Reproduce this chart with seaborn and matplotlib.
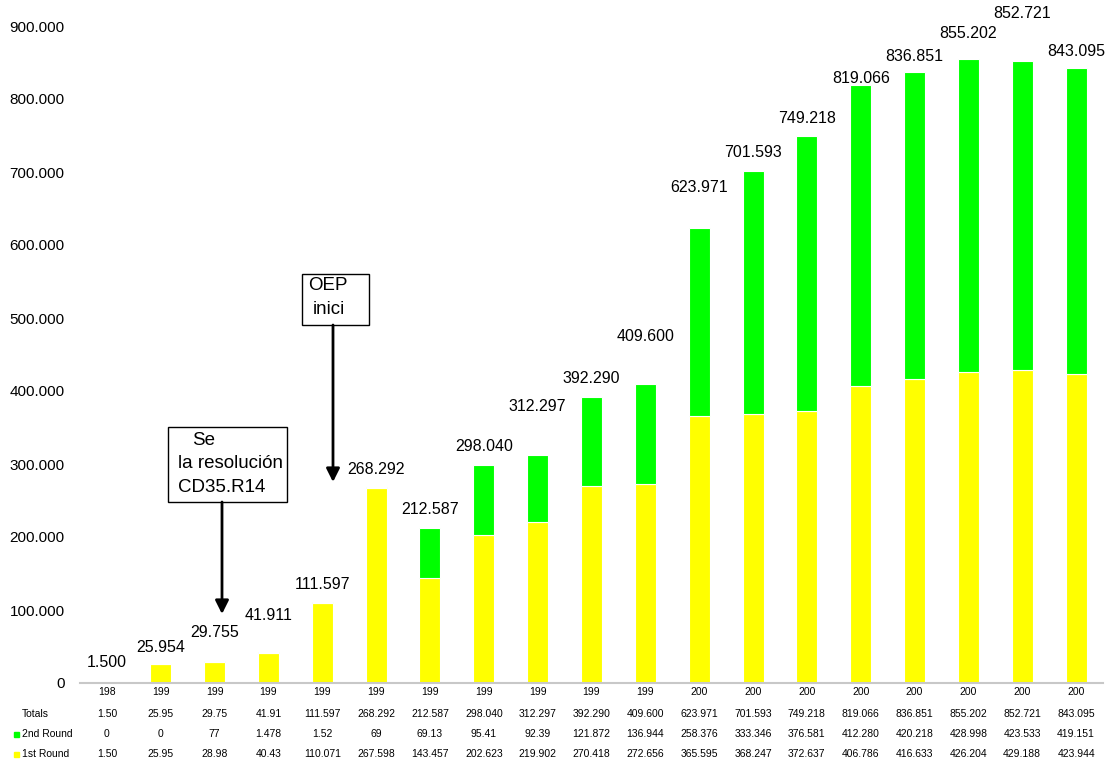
import matplotlib
matplotlib.use("Agg")
import matplotlib.pyplot as plt
import seaborn as sns
from matplotlib.patches import Rectangle, FancyArrowPatch
from matplotlib.ticker import FuncFormatter, FixedLocator

# data (values in units, table strings as printed)
year_labels = ["198", "199", "199", "199", "199", "199", "199", "199", "199", "199",
               "199", "200", "200", "200", "200", "200", "200", "200", "200"]
first_round = [1500, 25954, 28980, 40433, 110071, 267598, 143457, 202623, 219902, 270418,
               272656, 365595, 368247, 372637, 406786, 416633, 426204, 429188, 423944]
second_round = [0, 0, 775, 1478, 1526, 694, 69130, 95417, 92395, 121872,
                136944, 258376, 333346, 376581, 412280, 420218, 428998, 423533, 419151]
total_labels = ["1.500", "25.954", "29.755", "41.911", "111.597", "268.292", "212.587",
                "298.040", "312.297", "392.290", "409.600", "623.971", "701.593",
                "749.218", "819.066", "836.851", "855.202", "852.721", "843.095"]

table_totals = ["1.50", "25.95", "29.75", "41.91", "111.597", "268.292", "212.587",
                "298.040", "312.297", "392.290", "409.600", "623.971", "701.593",
                "749.218", "819.066", "836.851", "855.202", "852.721", "843.095"]
table_second = ["0", "0", "77", "1.478", "1.52", "69", "69.13", "95.41", "92.39",
                "121.872", "136.944", "258.376", "333.346", "376.581", "412.280",
                "420.218", "428.998", "423.533", "419.151"]
table_first = ["1.50", "25.95", "28.98", "40.43", "110.071", "267.598", "143.457",
               "202.623", "219.902", "270.418", "272.656", "365.595", "368.247",
               "372.637", "406.786", "416.633", "426.204", "429.188", "423.944"]

# how far each total label sits above its bar (pixels)
label_offsets = [19, 17, 29, 37, 17, 18, 18, 19, 49, 18, 47, 40, 18, 18, 7, 16, 25, 47, 16]

YELLOW = "#FFFF00"
GREEN = "#00FF00"

sns.set_style("white")
plt.rcParams["font.family"] = ["Liberation Sans", "DejaVu Sans"]
plt.rcParams["text.color"] = "black"
plt.rcParams["xtick.labelcolor"] = "black"
plt.rcParams["ytick.labelcolor"] = "black"

W, H = 1111, 764
fig = plt.figure(figsize=(W / 100, H / 100), dpi=100)
ax = fig.add_axes([80 / W, 1 - 683 / H, (1103 - 80) / W, (683 - 26) / H])


def px(x, y):
    return x / W, 1 - y / H


idx = list(range(len(first_round)))
totals = [a + b for a, b in zip(first_round, second_round)]

sns.barplot(x=idx, y=first_round, color=YELLOW, saturation=1, width=0.39,
            edgecolor="white", linewidth=0.8, ax=ax)
sns.barplot(x=idx, y=second_round, bottom=first_round, color=GREEN, saturation=1,
            width=0.39, edgecolor="white", linewidth=0.8, ax=ax)

ax.set_xlim(-0.5, len(idx) - 0.5)
ax.set_ylim(0, 900000)
ax.set_xlabel("")
ax.set_ylabel("")

for s in ["left", "top", "right"]:
    ax.spines[s].set_visible(False)
ax.spines["bottom"].set_color("#c8c8c8")
ax.spines["bottom"].set_linewidth(1.5)

ax.yaxis.set_major_locator(FixedLocator(range(0, 900001, 100000)))
ax.yaxis.set_major_formatter(FuncFormatter(lambda v, p: f"{int(v):,}".replace(",", ".")))
ax.tick_params(axis="y", length=0, pad=11, labelsize=11, labelcolor="black")
ax.set_xticks([i - 0.5 for i in range(len(idx) + 1)])
ax.set_xticklabels([])
ax.tick_params(axis="x", length=3, color="#c8c8c8", width=1)

# totals above the bars
for i, (lab, off) in enumerate(zip(total_labels, label_offsets)):
    ax.annotate(lab, xy=(i, totals[i]), xytext=(0, off), textcoords="offset pixels",
                ha="center", va="center", fontsize=11.5, color="black",
                annotation_clip=False)

# data table below the axis
trans = ax.get_xaxis_transform()
rows = [(692, year_labels), (714, table_totals), (734, table_second), (754, table_first)]
for ypix, vals in rows:
    yax = (683 - ypix) / (683 - 26)
    for i, v in enumerate(vals):
        ax.text(i, yax, v, transform=trans, ha="center", va="center", fontsize=7.5,
                color="black", clip_on=False)

for ypix, name, col in [(714, "Totals", None), (734, "2nd Round", GREEN),
                        (754, "1st Round", YELLOW)]:
    fig.text(*px(22, ypix), name, ha="left", va="center", fontsize=7.5, color="black")
    if col:
        fig.add_artist(Rectangle(px(14, ypix + 2.5), 5 / W, 5 / H, color=col,
                                 transform=fig.transFigure))

# annotation boxes
fig.add_artist(Rectangle(px(168, 502), (287 - 168) / W, (502 - 427) / H,
                         facecolor="white", edgecolor="black", linewidth=1,
                         transform=fig.transFigure))
for ypix, xpix, t in [(440, 192, "Se"), (464, 178, "la resolución"), (488, 178, "CD35.R14")]:
    fig.text(*px(xpix, ypix), t, ha="left", va="center", fontsize=13.5, color="black")

fig.add_artist(Rectangle(px(302, 325), (369 - 302) / W, (325 - 274) / H,
                         facecolor="white", edgecolor="black", linewidth=1,
                         transform=fig.transFigure))
fig.text(*px(308, 286), "OEP", ha="left", va="center", fontsize=13.5, color="black")
fig.text(*px(313, 310), "inici", ha="left", va="center", fontsize=13.5, color="black")

for x0, y0, y1 in [(222, 502, 614), (333, 325, 482)]:
    fig.add_artist(FancyArrowPatch(px(x0, y0), px(x0, y1), transform=fig.transFigure,
                                   arrowstyle="-|>", mutation_scale=20, color="black",
                                   linewidth=2, shrinkA=0, shrinkB=0))

fig.savefig("out.png", dpi=100)
